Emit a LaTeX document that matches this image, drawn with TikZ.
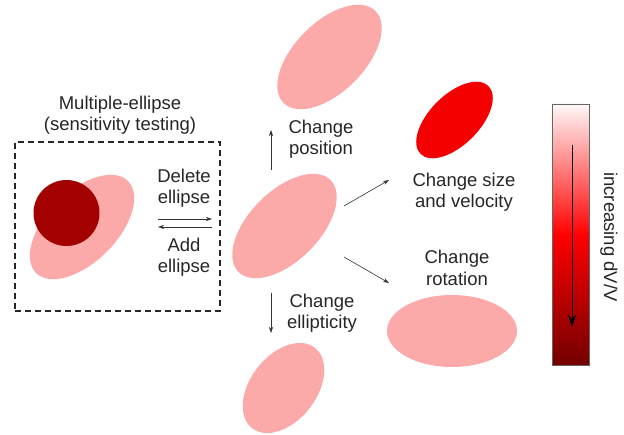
\documentclass[tikz,border=0pt]{standalone}
\usepackage{fontspec}
\setmainfont{Liberation Sans}
\usetikzlibrary{arrows.meta}
\definecolor{pinkfill}{RGB}{251,169,169}
\definecolor{darkcirc}{RGB}{163,0,0}
\definecolor{redfill}{RGB}{245,0,0}
\definecolor{barred}{RGB}{255,0,0}
\definecolor{bartop}{RGB}{255,248,248}
\definecolor{bardark}{RGB}{115,0,0}
\begin{document}
\begin{tikzpicture}[x=1pt,y=-1pt,
  lbl/.style={align=center,font=\fontsize{18.5}{21.5}\selectfont,text=black!85,inner sep=0pt},
  arr/.style={draw=black!80,line width=0.6pt,-{Stealth[length=6pt,width=4pt]}},
  pinkell/.style={fill=pinkfill}]
\useasboundingbox (0,0) rectangle (624,435);
% title and dashed box
\node[lbl] (title) at (120,115) {Multiple-ellipse\\(sensitivity testing)};
\node[draw=black!85,dashed,line width=1.3pt,dash pattern=on 6pt off 4pt,minimum width=205pt,minimum height=169pt,inner sep=0pt] (box) at (117.5,226.5) {};
% ellipse with circle in box
\fill[pinkell,shift={(82,227)},rotate=45] (0,0) ellipse (65 and 35);
\fill[darkcirc] (66.5,213) circle (33);
\node[lbl] (del) at (184,188) {Delete\\ellipse};
\node[lbl] (add) at (184,257) {Add\\ellipse};
\coordinate (d1) at (158,219); \coordinate (d2) at (212,219);
\coordinate (a1) at (212,227); \coordinate (a2) at (158,227);
\draw[arr] (d1) -- (d2);
\draw[arr] (a1) -- (a2);
% middle ellipses
\fill[pinkell,shift={(329.5,57)},rotate=45] (0,0) ellipse (65 and 35);
\fill[pinkell,shift={(284.5,226)},rotate=45] (0,0) ellipse (65 and 35);
\fill[pinkell,shift={(283.5,388)},rotate=52] (0,0) ellipse (51 and 33);
\node[lbl] (pos) at (321,139) {Change\\position};
\node[lbl] (ellip) at (322,313) {Change\\ellipticity};
\coordinate (u1) at (271,170); \coordinate (u2) at (271,130);
\coordinate (w1) at (271,293); \coordinate (w2) at (271,333);
\coordinate (r1) at (344,206); \coordinate (r2) at (389,180);
\coordinate (s1) at (344,257); \coordinate (s2) at (389,283);
\draw[arr] (u1) -- (u2);
\draw[arr] (w1) -- (w2);
\draw[arr] (r1) -- (r2);
\draw[arr] (s1) -- (s2);
% right ellipses
\fill[redfill,shift={(454.5,120)},rotate=45] (0,0) ellipse (48 and 25);
\node[lbl] (size) at (464,192) {Change size\\and velocity};
\node[lbl] (rot) at (457,268) {Change\\rotation};
\fill[pinkell] (452,331) ellipse (65 and 36);
% colour bar
\shade[top color=bartop,bottom color=barred] (552,104) rectangle (589,235);
\shade[top color=barred,bottom color=bardark] (552,234.5) rectangle (589,365);
\draw[black!60,line width=0.8pt] (552,104) rectangle (589,365);
\coordinate (b1) at (572,145); \coordinate (b2) at (572,327);
\draw[black,line width=0.6pt,-{Stealth[length=12pt,width=8pt]}] (b1) -- (b2);
\node[lbl,rotate=-90] (incr) at (609,237) {increasing dV/V};
\end{tikzpicture}
\end{document}
